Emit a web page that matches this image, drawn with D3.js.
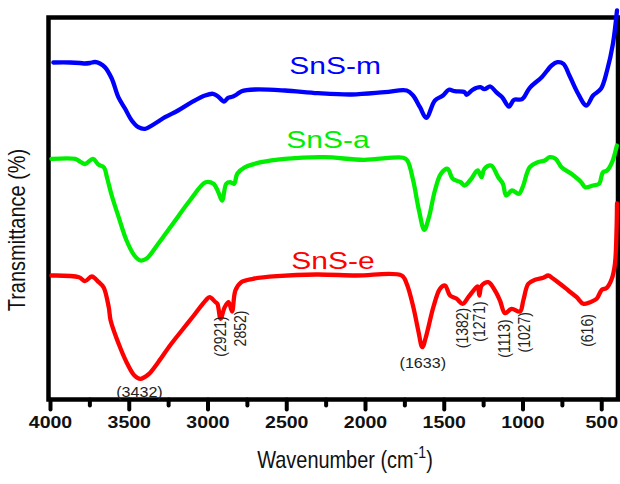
<!DOCTYPE html>
<html>
<head>
<meta charset="utf-8">
<script src="https://cdn.jsdelivr.net/npm/d3@7/dist/d3.min.js"></script>
<style>
  html, body { margin: 0; padding: 0; background: #ffffff; }
  svg { display: block; }
  text { font-family: "Liberation Sans", Arial, Helvetica, sans-serif; }
</style>
</head>
<body>
<div id="chart"></div>
<script>
// FTIR spectra of SnS samples, offset vertically (arbitrary transmittance units)
const wavenumberMajorTicks = [4000, 3500, 3000, 2500, 2000, 1500, 1000, 500];
const wavenumberMinorTicks = [3750, 3250, 2750, 2250, 1750, 1250, 750];

// [wavenumber (cm-1), transmittance (a.u.)]
const snsM = [
  [3979, 337], [3873, 337], [3810, 336.5], [3778, 336], [3746, 336.5], [3714, 337.5],
  [3683, 336], [3651, 332.3], [3608, 321], [3566, 302.3], [3524, 291], [3481, 279],
  [3439, 272.3], [3397, 270.7], [3333, 276], [3270, 282.3], [3187, 289], [3100, 297.3],
  [3016, 304], [2965, 305.7], [2933, 303], [2895, 298], [2870, 301.7], [2838, 303],
  [2815, 305], [2783, 308.3], [2698, 310], [2508, 309], [2298, 306.3], [2084, 305],
  [1873, 307.3], [1735, 309], [1695, 304], [1651, 292.3], [1611, 281.7], [1556, 299],
  [1505, 304], [1468, 309.7], [1430, 308.3], [1368, 307.3], [1355, 304.7], [1317, 309.7],
  [1267, 312.3], [1242, 310.3], [1204, 313], [1167, 307.3], [1129, 302.3], [1086, 293],
  [1054, 299.7], [1003, 300.3], [954, 311.7], [878, 322.3], [815, 334], [778, 337.3],
  [740, 335.7], [702, 324], [652, 307.3], [594, 294], [552, 304], [502, 310.7],
  [463, 329], [426, 355.7], [400, 389]
];

const snsA = [
  [3991, 240.7], [3841, 240.7], [3820, 239], [3778, 235.5], [3727, 240.7], [3693, 235],
  [3657, 232], [3638, 222], [3608, 204], [3564, 182.3], [3514, 159], [3464, 144],
  [3426, 139], [3389, 140.7], [3313, 155.7], [3213, 177.3], [3112, 199], [3012, 217.3],
  [2962, 215.7], [2931, 207.3], [2907, 199], [2881, 215.7], [2857, 217.3], [2831, 215.7],
  [2811, 225.7], [2761, 232.3], [2660, 237.3], [2510, 240.7], [2259, 242.3], [2008, 239.7],
  [1757, 241.7], [1731, 239], [1694, 219], [1657, 189], [1624, 169.7], [1594, 182.3],
  [1556, 209], [1518, 225.7], [1476, 230.7], [1443, 220.7], [1393, 217.3], [1368, 214],
  [1330, 219.7], [1285, 229], [1260, 222.3], [1242, 230.7], [1199, 234], [1154, 222.3],
  [1124, 215.7], [1104, 204], [1067, 209], [1023, 205.7], [999, 212.3], [954, 232.3],
  [903, 237.3], [858, 239], [828, 242.3], [790, 240.7], [752, 232.3], [690, 225.7],
  [627, 217.3], [602, 212.3], [552, 214], [514, 215.7], [489, 227.3], [463, 229],
  [431, 237.3], [401, 254]
];

const snsE = [
  [3991, 124], [3816, 122.3], [3778, 118.3], [3735, 123], [3690, 117.3], [3660, 112.3],
  [3627, 92.3], [3615, 79], [3564, 55.7], [3514, 37.3], [3464, 24], [3426, 20.7],
  [3376, 25], [3313, 37.3], [3238, 54], [3163, 69], [3087, 84], [3012, 99],
  [2987, 102.3], [2949, 97.3], [2937, 95.7], [2917, 80.7], [2891, 92.3], [2866, 97.3],
  [2844, 88], [2823, 109], [2786, 117.3], [2711, 120.7], [2560, 123.3], [2309, 125],
  [2058, 124], [1767, 124], [1735, 115.7], [1693, 92.3], [1662, 69], [1636, 52.3],
  [1608, 65.7], [1566, 92.3], [1524, 110.7], [1492, 114], [1460, 104], [1418, 100.7],
  [1380, 95.7], [1344, 102.3], [1302, 110.7], [1284, 113], [1274, 104], [1259, 114],
  [1217, 117.3], [1175, 109], [1143, 99], [1111, 86.3], [1069, 90.7], [1016, 88],
  [995, 99], [963, 115.7], [921, 119.7], [868, 121.7], [836, 124], [804, 120.7],
  [762, 115.7], [709, 109], [656, 102.3], [614, 95.7], [571, 97.3], [529, 100.7],
  [497, 109.7], [465, 111.7], [433, 120.7], [413, 135.7], [403, 169], [400, 196]
];

const seriesNames = ["SnS-m", "SnS-a", "SnS-e"];
const seriesColors = ["#0000ff", "#00ee00", "#ff0000"];
const seriesData = [snsM, snsA, snsE];
// label anchor: [wavenumber, transmittance level of baseline]
const seriesLabelAt = [[2190, 326], [2235, 252], [2203, 131]];

// band assignments written beside the SnS-e trace
const bandText = ["(3432)", "(1633)"];
const bandAt = [[3432, 3], [1633, 32]];
const bandTextVertical = ["(2921)", "2852)", "(1382)", "(1271)", "(1113)", "(1027)", "(616)"];
const bandAtVertical = [[2921, 63], [2790, 71], [1382, 71.5], [1271, 78], [1113, 61], [985, 67.3], [590, 69]];

const W = 620, H = 484;
const frameLeft = 48.5, frameRight = 618, frameTop = 17.5, frameBottom = 399.5;

const svg = d3.select("#chart").append("svg")
  .attr("width", W).attr("height", H);

const x = d3.scaleLinear().domain([4000, 400]).range([50, 617]);
const y = d3.scaleLinear().domain([0, 382]).range([frameBottom, frameTop]);

// frame
svg.append("rect")
  .attr("x", frameLeft).attr("y", frameTop)
  .attr("width", frameRight - frameLeft).attr("height", frameBottom - frameTop)
  .attr("fill", "none").attr("stroke", "#000").attr("stroke-width", 4.5);

// minor ticks
const minorAxis = d3.axisBottom(x).tickValues(wavenumberMinorTicks).tickSize(6).tickFormat("");
const gMinor = svg.append("g").attr("transform", `translate(0,${frameBottom})`).call(minorAxis);
gMinor.select(".domain").remove();
gMinor.selectAll(".tick line").attr("stroke", "#000").attr("stroke-width", 4).attr("stroke-linecap", "round");

// major ticks
const majorAxis = d3.axisBottom(x).tickValues(wavenumberMajorTicks).tickSize(10).tickPadding(7)
  .tickFormat(d3.format("d"));
const gMajor = svg.append("g").attr("transform", `translate(0,${frameBottom})`).call(majorAxis);
gMajor.select(".domain").remove();
gMajor.selectAll(".tick line").attr("stroke", "#000").attr("stroke-width", 4).attr("stroke-linecap", "round");
gMajor.selectAll(".tick text")
  .attr("fill", "#111")
  .attr("font-size", 16).attr("font-weight", "bold")
  .attr("font-family", "'Liberation Sans', Arial, sans-serif")
  .attr("transform", "scale(1.22,1)");

// spectra
const line = d3.line()
  .x(d => x(d[0]))
  .y(d => y(d[1]))
  .curve(d3.curveCatmullRom.alpha(0.5));

seriesData.forEach((data, i) => {
  svg.append("path")
    .datum(data)
    .attr("fill", "none")
    .attr("stroke", seriesColors[i])
    .attr("stroke-width", 4.3)
    .attr("stroke-linejoin", "round")
    .attr("stroke-linecap", "round")
    .attr("d", line);
});

// series names
seriesNames.forEach((name, i) => {
  const [wn, t] = seriesLabelAt[i];
  svg.append("text")
    .attr("transform", `translate(${x(wn)},${y(t)}) scale(1.25,1)`)
    .attr("text-anchor", "middle")
    .attr("font-size", 24)
    .attr("fill", seriesColors[i])
    .text(name);
});

// band labels
bandText.forEach((s, i) => {
  const [wn, t] = bandAt[i];
  svg.append("text")
    .attr("transform", `translate(${x(wn)},${y(t)}) scale(1.15,1)`)
    .attr("text-anchor", "middle")
    .attr("font-size", 14)
    .attr("fill", "#222")
    .text(s);
});
bandTextVertical.forEach((s, i) => {
  const [wn, t] = bandAtVertical[i];
  svg.append("text")
    .attr("transform", `translate(${x(wn)},${y(t)}) scale(1.15,1) rotate(-90)`)
    .attr("text-anchor", "middle")
    .attr("dy", "0.35em")
    .attr("font-size", 14)
    .attr("fill", "#222")
    .text(s);
});

// axis titles
svg.append("text")
  .attr("transform", "translate(17,230) scale(1.2,1) rotate(-90)")
  .attr("text-anchor", "middle")
  .attr("dy", "0.35em")
  .attr("font-size", 20)
  .attr("fill", "#111")
  .text("Transmittance (%)");

const xTitle = svg.append("text")
  .attr("transform", "translate(345,468) scale(0.83,1)")
  .attr("text-anchor", "middle")
  .attr("font-size", 24)
  .attr("fill", "#111");
xTitle.append("tspan").text("Wavenumber (cm");
xTitle.append("tspan").attr("dy", -10).attr("font-size", 17).text("-1");
xTitle.append("tspan").attr("dy", 10).text(")");
</script>
</body>
</html>
